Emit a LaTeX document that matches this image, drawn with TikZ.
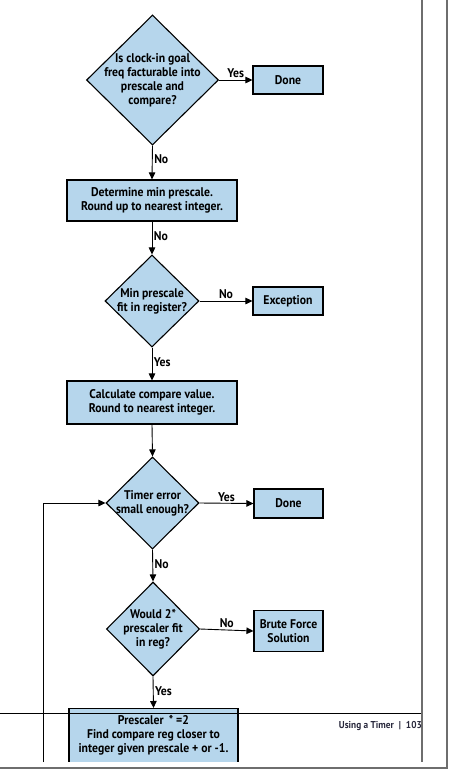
\documentclass[tikz,border=0pt]{standalone}
\usepackage{fontspec}
\setmainfont{PT Sans}[FakeStretch=0.93]
\usetikzlibrary{shapes.geometric,arrows.meta}
\definecolor{flowblue}{RGB}{182,214,236}
\definecolor{pagegray}{RGB}{110,110,110}
\definecolor{footink}{RGB}{40,40,60}

\begin{document}
\begin{tikzpicture}[x=1pt,y=1pt,yscale=-1,xscale=1,
  decision/.style={shape=diamond,draw,fill=flowblue,line width=1.1pt,inner sep=-9pt,align=center,font=\bfseries\fontsize{12.6}{14}\selectfont},
  process/.style={shape=rectangle,draw,fill=flowblue,line width=1.1pt,inner sep=2pt,align=center,font=\bfseries\fontsize{12.6}{14}\selectfont},
  flow/.style={line width=0.9pt,-{Triangle[length=7pt,width=6.5pt]}},
  answer/.style={font=\bfseries\fontsize{12.6}{14}\selectfont,inner sep=1.5pt}]
\useasboundingbox (0,0) rectangle (450,772);

%Shape: Diamonds
\node[decision,minimum width=132pt,minimum height=130pt] (clockgoal) at (152.5,80) {Is clock-in goal\\freq facturable into\\prescale and\\compare?};
\node[decision,minimum width=94pt,minimum height=92pt] (minfit) at (152,301) {Min prescale\\fit in register?};
\node[decision,minimum width=93pt,minimum height=92pt] (timererr) at (152.5,503) {Timer error\\small enough?};
\node[decision,minimum width=93pt,minimum height=94pt] (doublefit) at (153,629) {Would 2*\\prescaler fit\\in reg?};

%Shape: Boxes
\node[process,minimum width=170pt,minimum height=41pt] (minpre) at (152,200.5) {Determine min prescale.\\Round up to nearest integer.};
\node[process,minimum width=170pt,minimum height=43pt] (compval) at (152,402.5) {Calculate compare value.\\Round to nearest integer.};
\node[process,minimum width=70pt,minimum height=28pt] (doneA) at (288,80) {Done};
\node[process,minimum width=70pt,minimum height=28pt] (except) at (288,301) {Exception};
\node[process,minimum width=69pt,minimum height=29pt] (doneB) at (288.5,503.5) {Done};
\node[process,minimum width=69pt,minimum height=41pt] (brute) at (288.5,631) {Brute Force\\Solution};
\begin{scope}
\clip (0,0) rectangle (450,761);
\node[process,anchor=north,minimum width=169pt,minimum height=54pt] (halfpre) at (153.5,708) {Prescaler\, * =2\\Find compare reg closer to\\integer given prescale + or -1.};
\end{scope}

%Straight Lines
\draw[flow] (clockgoal.south) -- node[answer,right,pos=0.4] (noA) {No} (minpre.north);
\draw[flow] (clockgoal.east) -- node[answer,above] (yesA) {Yes} (doneA.west);
\draw[flow] (minpre.south) -- node[answer,right,pos=0.45] (noB) {No} (minfit.north);
\draw[flow] (minfit.east) -- node[answer,above] (noC) {No} (except.west);
\draw[flow] (minfit.south) -- node[answer,right,pos=0.45] (yesB) {Yes} (compval.north);
\draw[flow] (compval.south) -- (timererr.north);
\draw[flow] (timererr.east) -- node[answer,above] (yesC) {Yes} (doneB.west);
\draw[flow] (timererr.south) -- node[answer,right,pos=0.45] (noD) {No} (doublefit.north);
\draw[flow] (doublefit.east) -- node[answer,above] (noE) {No} (brute.west);
\draw[flow] (doublefit.south) -- node[answer,right,pos=0.45] (yesD) {Yes} (halfpre.north);
%Loop back
\coordinate (loopfoot) at (43,762);
\draw[flow] (loopfoot) |- (timererr.west);

%Page frame
\draw[line width=0.8pt] (0,713) -- (423,713);
\draw[pagegray,line width=1.3pt] (422,0) -- (422,762);
\draw[pagegray,line width=2pt] (447,0) -- (447,768) -- (0,768);
% Text Node
\node[anchor=east,inner sep=0pt,text=footink,font=\bfseries\fontsize{10}{11}\selectfont] (pagefoot) at (422,726) {Using a Timer\enspace|\enspace 103};

\end{tikzpicture}
\end{document}
